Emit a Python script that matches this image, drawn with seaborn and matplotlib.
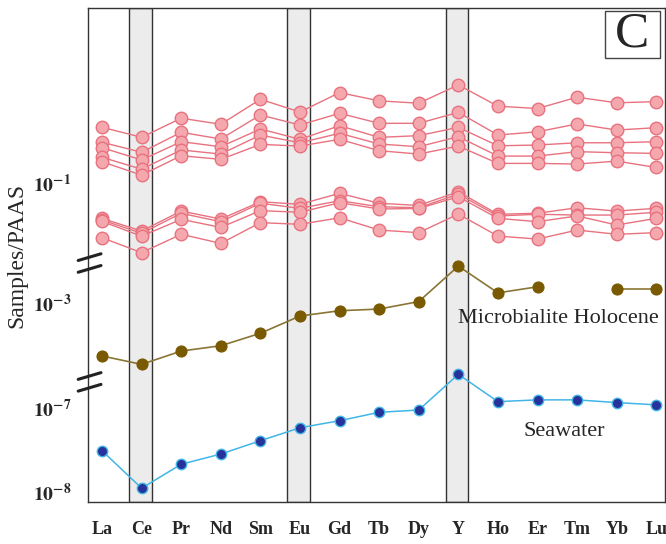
import numpy as np
import pandas as pd
import matplotlib
matplotlib.use('Agg')
import matplotlib.pyplot as plt
import matplotlib.transforms as mtransforms
from matplotlib.patches import Rectangle
import seaborn as sns

elements = ['La', 'Ce', 'Pr', 'Nd', 'Sm', 'Eu', 'Gd', 'Tb', 'Dy', 'Y',
            'Ho', 'Er', 'Tm', 'Yb', 'Lu']
anomaly_elements = ['Ce', 'Eu', 'Y']

# microbialite samples (PAAS normalised)
samples = [
    [0.46, 0.35, 0.59, 0.50, 0.99, 0.70, 1.19, 0.95, 0.89, 1.47, 0.82, 0.77, 1.05, 0.90, 0.93],
    [0.305, 0.232, 0.401, 0.334, 0.644, 0.490, 0.675, 0.513, 0.513, 0.693, 0.372, 0.407, 0.504, 0.427, 0.455],
    [0.263, 0.188, 0.310, 0.270, 0.439, 0.331, 0.481, 0.349, 0.366, 0.460, 0.277, 0.283, 0.301, 0.301, 0.310],
    [0.202, 0.146, 0.247, 0.221, 0.372, 0.301, 0.390, 0.291, 0.270, 0.356, 0.209, 0.209, 0.236, 0.229, 0.225],
    [0.179, 0.124, 0.211, 0.191, 0.288, 0.275, 0.331, 0.242, 0.221, 0.275, 0.171, 0.171, 0.168, 0.182, 0.153],
    [0.0378, 0.0268, 0.0463, 0.0372, 0.0598, 0.0557, 0.0753, 0.0573, 0.0540, 0.0787, 0.0424, 0.0436, 0.0507, 0.0463, 0.0499],
    [0.0362, 0.0252, 0.0435, 0.0346, 0.0573, 0.0499, 0.0615, 0.0521, 0.0507, 0.0738, 0.0405, 0.0424, 0.0415, 0.0415, 0.0448],
    [0.0348, 0.0233, 0.0369, 0.0296, 0.0468, 0.0448, 0.0582, 0.0490, 0.0497, 0.0686, 0.0379, 0.0346, 0.0405, 0.0316, 0.0379],
    [0.0223, 0.0148, 0.0245, 0.0191, 0.0337, 0.0322, 0.0385, 0.0275, 0.0256, 0.0427, 0.0233, 0.0215, 0.0275, 0.0245, 0.0256],
]
holocene = [2.34e-4, 1.86e-4, 2.68e-4, 3.10e-4, 4.36e-4, 7.00e-4, 8.09e-4, 8.47e-4,
            1.04e-3, 2.75e-3, 1.32e-3, 1.56e-3, np.nan, 1.47e-3, 1.47e-3]
seawater = [3.10e-8, 1.11e-8, 2.14e-8, 2.83e-8, 4.08e-8, 5.82e-8, 7.06e-8, 8.89e-8,
            9.46e-8, 2.52e-7, 1.19e-7, 1.25e-7, 1.25e-7, 1.16e-7, 1.09e-7]

ytick_values = [1e-1, 1e-3, 1e-7, 1e-8]
ytick_texts = ['$\\mathbf{10^{-1}}$', '$\\mathbf{10^{-3}}$', '$\\mathbf{10^{-7}}$', '$\\mathbf{10^{-8}}$']

# broken y axis: every block is log10(value) shifted by its own offset
SHIFT_SAMPLES = 4.798
SHIFT_HOLOCENE = 5.369
SHIFT_SEAWATER = 8.119
ytick_shifts = [SHIFT_SAMPLES, SHIFT_HOLOCENE, SHIFT_SEAWATER, SHIFT_SEAWATER]
BREAKS = [2.845, 1.43]

sns.set_style('white')
plt.rcParams['font.family'] = ['Liberation Serif', 'DejaVu Serif']
plt.rcParams['mathtext.fontset'] = 'stix'

pos = np.arange(len(elements))

rows = []
for k, vals in enumerate(samples):
    for i, v in enumerate(vals):
        rows.append({'pos': i, 'sample': k, 'y': np.log10(v) + SHIFT_SAMPLES})
df_samples = pd.DataFrame(rows)

hol = np.array(holocene, dtype=float)
df_hol = pd.DataFrame({'pos': pos, 'y': np.log10(hol) + SHIFT_HOLOCENE,
                       'part': np.cumsum(np.isnan(hol))}).dropna()

df_sea = pd.DataFrame({'pos': pos, 'y': np.log10(seawater) + SHIFT_SEAWATER})

fig = plt.figure(figsize=(6.66, 5.44), dpi=100)
ax = fig.add_axes([88 / 666, 42 / 544, 577 / 666, 494 / 544])

for el in anomaly_elements:
    i = elements.index(el)
    ax.axvspan(i - 0.32, i + 0.25, facecolor='#ececec', edgecolor='#333333',
               lw=1.0, zorder=0)

sns.lineplot(data=df_samples, x='pos', y='y', units='sample', estimator=None,
             color='#e8727f', lw=1.0, marker='o', markersize=9,
             markerfacecolor='#f4a7ac', markeredgecolor='#e8727f',
             markeredgewidth=1.0, ax=ax, zorder=3)
sns.lineplot(data=df_hol, x='pos', y='y', units='part', estimator=None,
             color='#8a7535', lw=1.2, marker='o', markersize=8,
             markerfacecolor='#7a5a00', markeredgecolor='#7a5a00', ax=ax, zorder=3)
sns.lineplot(data=df_sea, x='pos', y='y', color='#41b6e6', lw=1.1,
             marker='o', markersize=7.5, markerfacecolor='#27329a',
             markeredgecolor='#41b6e6', markeredgewidth=1.0, ax=ax, zorder=3)

ax.set_xlim(-0.354, 14.22)
ax.set_ylim(0, 494 / 84)
ax.set_xticks(pos)
ax.set_xticklabels(elements, fontweight='bold', fontsize=13)
ax.set_yticks([np.log10(v) + s for v, s in zip(ytick_values, ytick_shifts)])
ax.set_yticklabels(ytick_texts, fontsize=14)
ax.tick_params(axis='x', length=0, pad=14)
ax.tick_params(axis='y', length=0, pad=12)
ax.set_xlabel('')
ax.set_ylabel('Samples/PAAS', fontsize=17, va='center')
ax.yaxis.set_label_coords(-0.123, 0.5)
for sp in ax.spines.values():
    sp.set_visible(True)
    sp.set_color('#333333')
    sp.set_linewidth(1.0)

# axis break marks
trans = mtransforms.blended_transform_factory(ax.transAxes, ax.transData)
for c in BREAKS:
    for d in (0.07, -0.07):
        ax.plot([-0.017, 0.0225], [c + d - 0.04, c + d + 0.04], color='#222222',
                lw=2.2, transform=trans, clip_on=False, zorder=5)

ax.text(11.52, 2.19, 'Microbialite Holocene', fontsize=16, ha='center', va='center')
ax.text(11.67, 0.845, 'Seawater', fontsize=16, ha='center', va='center')

ax.add_patch(Rectangle((0.896, 0.898), 0.095, 0.0965, transform=ax.transAxes,
                       facecolor='white', edgecolor='#444444', lw=1.0, zorder=6))
ax.text(0.9435, 0.946, 'C', transform=ax.transAxes, fontsize=37,
        ha='center', va='center', zorder=7)

fig.savefig('out.png', dpi=100)
